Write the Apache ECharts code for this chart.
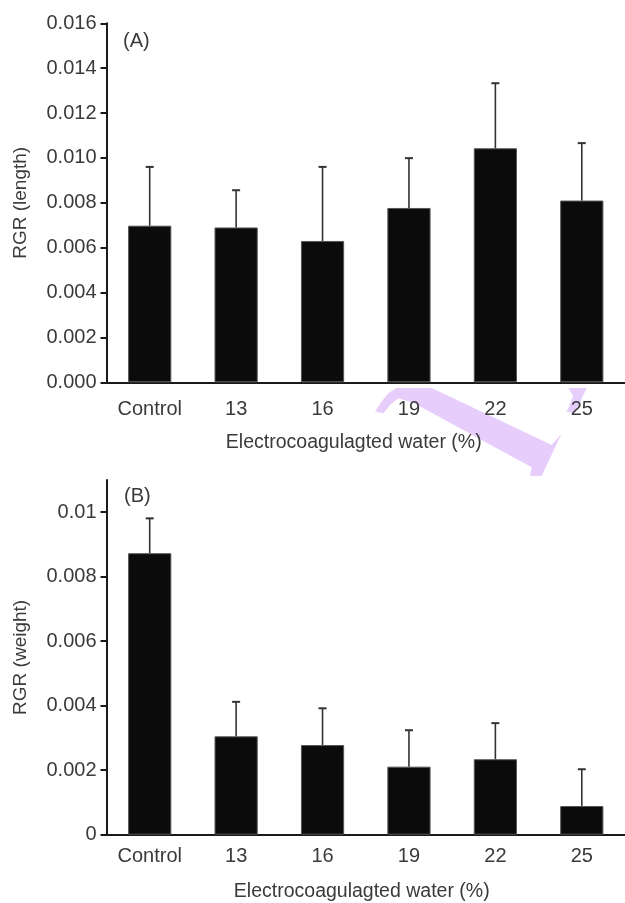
<!DOCTYPE html>
<html>
<head>
<meta charset="utf-8">
<script src="https://cdn.jsdelivr.net/npm/echarts@6/dist/echarts.min.js"></script>
<style>
html,body{margin:0;padding:0;background:#fff;}
#main{width:625px;height:903px;}
</style>
</head>
<body>
<div id="main"></div>
<script>
var categories = ['Control', '13', '16', '19', '22', '25'];
var lengthMean = [0.00698, 0.0069, 0.0063, 0.00777, 0.01043, 0.0081];
var lengthErr = [0.00262, 0.00166, 0.0033, 0.00222, 0.0029, 0.00256];
var weightMean = [0.00873, 0.00305, 0.00278, 0.00211, 0.00234, 0.00089];
var weightErr = [0.00108, 0.00107, 0.00114, 0.00113, 0.00112, 0.00114];
var lengthTicks = [0, 0.002, 0.004, 0.006, 0.008, 0.010, 0.012, 0.014, 0.016];
var weightTicks = [0, 0.002, 0.004, 0.006, 0.008, 0.01];
var xTitle = 'Electrocoagulagted water (%)';

var narrow = "'Liberation Sans Narrow','Arial Narrow','Liberation Sans',sans-serif";
var normal = "'Liberation Sans',Arial,sans-serif";
var textCol = '#3a3a3a';
var axisCol = '#1a1a1a';

function errData(m, e) {
  return m.map(function (v, i) { return [i, v, e[i]]; });
}
function errRender(params, api) {
  var i = api.value(0), m = api.value(1), e = api.value(2);
  var p0 = api.coord([i, m]);
  var p1 = api.coord([i, m + e]);
  var hw = 4;
  return {
    type: 'group',
    children: [
      {type: 'line', shape: {x1: p0[0], y1: p0[1], x2: p1[0], y2: p1[1]}, style: {stroke: '#333', lineWidth: 1.6}},
      {type: 'line', shape: {x1: p1[0] - hw, y1: p1[1], x2: p1[0] + hw, y2: p1[1]}, style: {stroke: '#333', lineWidth: 2}}
    ]
  };
}

function xAxisCfg(gi, labelMargin, nameGap, namePad) {
  return {
    type: 'category', gridIndex: gi, data: categories,
    axisLine: {show: true, lineStyle: {color: axisCol, width: 2}},
    axisTick: {show: false},
    axisLabel: {color: textCol, fontFamily: narrow, fontSize: 20, margin: labelMargin, interval: 0},
    name: xTitle, nameLocation: 'middle', nameGap: nameGap,
    nameTextStyle: {color: textCol, fontFamily: narrow, fontSize: 19.5, padding: namePad},
    splitLine: {show: false}
  };
}
function yAxisCfg(gi, max, ticks, name, fmt) {
  return {
    type: 'value', gridIndex: gi, min: 0, max: max, interval: 0.002,
    axisLine: {show: true, lineStyle: {color: axisCol, width: 2}},
    axisTick: {show: true, inside: false, length: 6, lineStyle: {color: axisCol, width: 2}, customValues: ticks},
    axisLabel: {color: textCol, fontFamily: normal, fontSize: 20, margin: 10, customValues: ticks, formatter: fmt},
    splitLine: {show: false},
    name: name, nameLocation: 'middle', nameGap: 76,
    nameTextStyle: {color: textCol, fontFamily: narrow, fontSize: 19}
  };
}

var lav = '#e6cdfc';
var chart = echarts.init(document.getElementById('main'), null, {renderer: 'canvas'});
chart.setOption({
  animation: false,
  backgroundColor: '#fff',
  grid: [
    {left: 106.5, top: 23.3, width: 521, height: 359},
    {left: 106.5, top: 480, width: 521, height: 354.7}
  ],
  xAxis: [
    xAxisCfg(0, 17, 50.5, [0, 24, 0, 0]),
    xAxisCfg(1, 12, 47, [0, 8, 0, 0])
  ],
  yAxis: [
    yAxisCfg(0, 0.016, lengthTicks, 'RGR (length)', function (v) { return v.toFixed(3); }),
    yAxisCfg(1, 0.011, weightTicks, 'RGR (weight)', function (v) { return v === 0 ? '0' : String(+v.toFixed(3)); })
  ],
  graphic: [
    {type: 'polygon', z: -10, silent: true, shape: {points: [
      [375, 411.7], [380.7, 402.7], [388.3, 393.3], [396.7, 388], [431.7, 388], [551.7, 445], [561.7, 433.3],
      [541.7, 476], [530, 476], [531.7, 467.3], [413.3, 402.7], [398.3, 398.3], [390, 405], [383.3, 413.3]
    ]}, style: {fill: lav}},
    {type: 'polygon', z: -10, silent: true, shape: {points: [
      [568.3, 388], [586.7, 388], [575, 413.3], [566.7, 411.7], [573.3, 396]
    ]}, style: {fill: lav}},
    {type: 'text', left: 123, top: 31, style: {text: '(A)', fill: textCol, font: '20px ' + normal}},
    {type: 'text', left: 124, top: 486, style: {text: '(B)', fill: textCol, font: '20px ' + normal}}
  ],
  series: [
    {type: 'bar', xAxisIndex: 0, yAxisIndex: 0, data: lengthMean, barWidth: '50%',
     itemStyle: {color: '#0b0b0b', borderColor: '#555', borderWidth: 1}},
    {type: 'custom', xAxisIndex: 0, yAxisIndex: 0, data: errData(lengthMean, lengthErr),
     renderItem: errRender, encode: {x: 0, y: 1}, z: 3},
    {type: 'bar', xAxisIndex: 1, yAxisIndex: 1, data: weightMean, barWidth: '50%',
     itemStyle: {color: '#0b0b0b', borderColor: '#555', borderWidth: 1}},
    {type: 'custom', xAxisIndex: 1, yAxisIndex: 1, data: errData(weightMean, weightErr),
     renderItem: errRender, encode: {x: 0, y: 1}, z: 3}
  ]
});
</script>
</body>
</html>
